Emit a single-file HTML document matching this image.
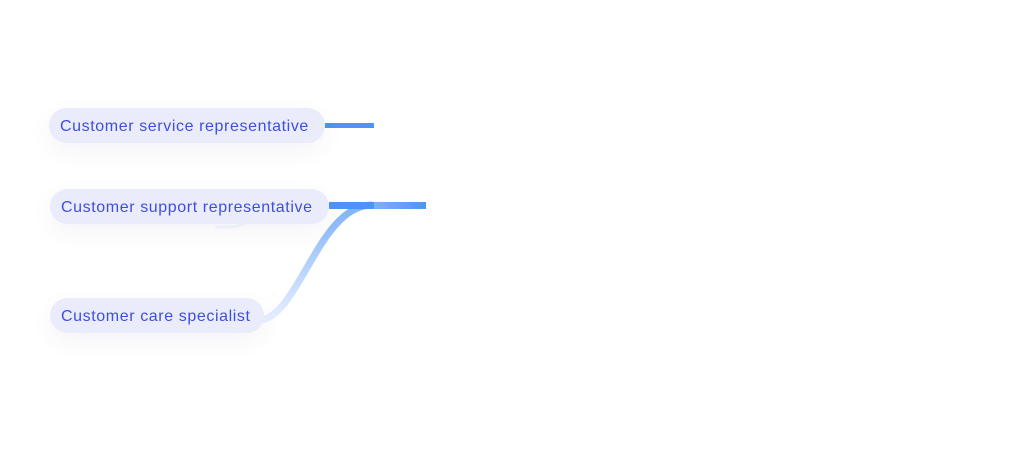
<!DOCTYPE html>
<html><head><style>
body{margin:0;width:1020px;height:466px;background:#fff;position:relative;overflow:hidden;font-family:"Liberation Sans",sans-serif}
.p{position:absolute;height:35px;border-radius:18px;background:#ebecfb;color:#3d4fe0;font-size:16px;letter-spacing:0.6px;line-height:37px;padding:0 11px;box-sizing:border-box;box-shadow:0 8px 24px rgba(60,60,120,0.06);white-space:nowrap}
</style></head><body>
<svg width="1020" height="466" style="position:absolute;left:0;top:0">
<defs>
<linearGradient id="g" x1="0" y1="1" x2="0" y2="0">
<stop offset="0" stop-color="#e6efff"/><stop offset="1" stop-color="#7fb2f8"/>
</linearGradient>
<linearGradient id="h" x1="0" x2="1"><stop offset="0" stop-color="#7fb0f8"/><stop offset="1" stop-color="#4c94f6"/></linearGradient>
</defs>
<path d="M262 320 C 300 312, 320 205, 372 205" stroke="url(#g)" stroke-width="7" fill="none"/>
<path d="M215 227 C 230 228, 240 226, 246 223" stroke="#f4f7fe" stroke-width="3" fill="none"/>
<rect x="325" y="123" width="49" height="5" fill="#4c94f6"/>
<rect x="329" y="202" width="45" height="7" fill="#4c94f6"/>
<rect x="374" y="202" width="52" height="7" fill="url(#h)"/>
</svg>
<div class="p" style="left:49px;top:108px;width:276px">Customer service representative</div>
<div class="p" style="left:50px;top:189px;width:279px">Customer support representative</div>
<div class="p" style="left:50px;top:298px;width:214px">Customer care specialist</div>
</body></html>
